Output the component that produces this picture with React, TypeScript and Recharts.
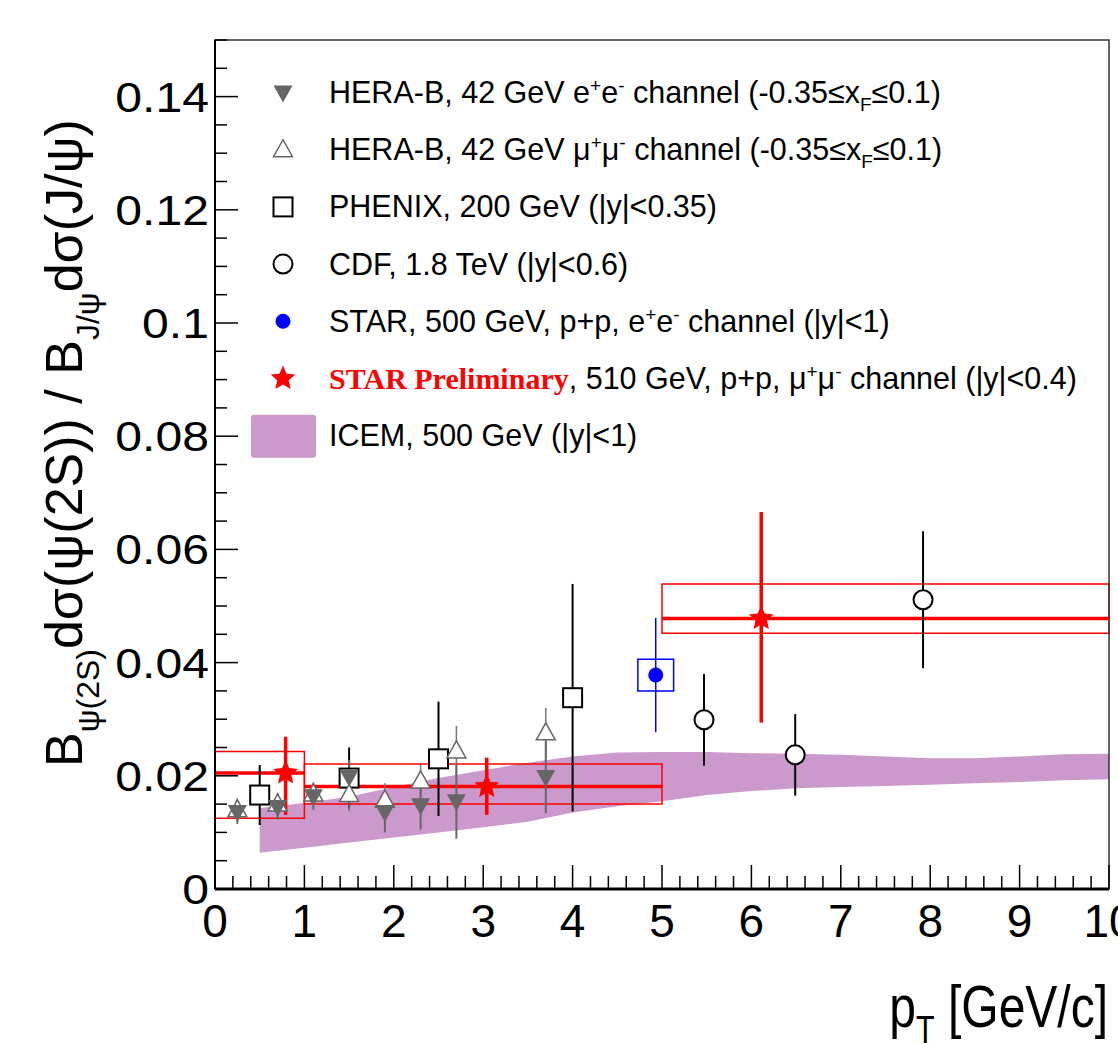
import React from "react";
import {
  ComposedChart,
  Area,
  Scatter,
  ErrorBar,
  XAxis,
  YAxis,
  ReferenceArea,
  ReferenceLine,
  Legend,
} from "recharts";

const FONT = '"Liberation Sans", Arial, Helvetica, sans-serif';

// axis ticks
const xMajorTicks = [0, 1, 2, 3, 4, 5, 6, 7, 8, 9, 10];
const xTickLabels = ["0", "1", "2", "3", "4", "5", "6", "7", "8", "9", "10"];
const yMajorTicks = [0, 0.02, 0.04, 0.06, 0.08, 0.1, 0.12, 0.14];
const yTickLabels = ["0", "0.02", "0.04", "0.06", "0.08", "0.1", "0.12", "0.14"];

// ICEM band, 500 GeV
const icemPt = [0.5, 1, 1.5, 2, 2.5, 3, 3.5, 4, 4.5, 5, 5.5, 6, 6.5, 7, 7.5, 8, 8.5, 9, 9.5, 10];
const icemLow = [0.0064, 0.0073, 0.0082, 0.0091, 0.01, 0.0109, 0.0119, 0.0135, 0.0146, 0.0155, 0.0166, 0.0173, 0.0178, 0.018, 0.0182, 0.0184, 0.0187, 0.0189, 0.0192, 0.0194];
const icemHigh = [0.0143, 0.0152, 0.0163, 0.018, 0.0196, 0.021, 0.0223, 0.0234, 0.0241, 0.0242, 0.0242, 0.024, 0.0239, 0.0237, 0.0234, 0.0231, 0.0231, 0.0234, 0.0238, 0.0239];

// HERA-B e+e-
const heraEePt = [0.25, 0.7, 1.1, 1.5, 1.9, 2.3, 2.7, 3.7];
const heraEeVal = [0.0136, 0.0145, 0.0164, 0.0198, 0.0136, 0.0148, 0.0155, 0.0198];
const heraEeErr = [0.0021, 0.0022, 0.0024, 0.003, 0.0036, 0.0043, 0.0066, 0.0064];

// HERA-B mu+mu-
const heraMmPt = [0.25, 0.7, 1.1, 1.5, 1.9, 2.3, 2.7, 3.7];
const heraMmVal = [0.014, 0.015, 0.0168, 0.0167, 0.0157, 0.0191, 0.0244, 0.0276];
const heraMmErr = [0.002, 0.002, 0.0018, 0.003, 0.003, 0.0029, 0.0044, 0.0044];

// PHENIX 200 GeV
const phenixPt = [0.5, 1.5, 2.5, 4.0];
const phenixVal = [0.0166, 0.0196, 0.023, 0.0338];
const phenixErr = [0.0053, 0.0054, 0.0101, 0.0201];

// CDF 1.8 TeV
const cdfPt = [5.47, 6.49, 7.92];
const cdfVal = [0.0299, 0.0237, 0.0511];
const cdfErr = [0.0081, 0.0072, 0.0121];

// STAR 500 GeV e+e-
const starEePt = [4.93];
const starEeVal = [0.0378];
const starEeErr = [0.0101];
const starEeSysPtLo = [4.73];
const starEeSysPtHi = [5.13];
const starEeSysLo = [0.035];
const starEeSysHi = [0.0406];

// STAR Preliminary 510 GeV mu+mu-
const starMmPt = [0.79, 3.04, 6.11];
const starMmVal = [0.0205, 0.0181, 0.0478];
const starMmErrLo = [0.0074, 0.005, 0.0184];
const starMmErrHi = [0.0064, 0.0051, 0.0188];
const starMmBinLo = [0, 1, 5];
const starMmBinHi = [1, 5, 10];
const starMmSysLo = [0.0125, 0.015, 0.0452];
const starMmSysHi = [0.0243, 0.0221, 0.0539];

type Seg = [string, string?];
const legendRows: { marker: string; text: Seg[] }[] = [
  { marker: "down", text: [["HERA-B, 42 GeV e"], ["+", "sup"], ["e"], ["-", "sup"], [" channel (-0.35≤x"], ["F", "sub"], ["≤0.1)"]] },
  { marker: "up", text: [["HERA-B, 42 GeV μ"], ["+", "sup"], ["μ"], ["-", "sup"], [" channel (-0.35≤x"], ["F", "sub"], ["≤0.1)"]] },
  { marker: "square", text: [["PHENIX, 200 GeV (|y|<0.35)"]] },
  { marker: "circle", text: [["CDF, 1.8 TeV (|y|<0.6)"]] },
  { marker: "dot", text: [["STAR, 500 GeV, p+p, e"], ["+", "sup"], ["e"], ["-", "sup"], [" channel (|y|<1)"]] },
  { marker: "star", text: [["STAR Preliminary", "red"], [", 510 GeV, p+p, μ"], ["+", "sup"], ["μ"], ["-", "sup"], [" channel (|y|<0.4)"]] },
  { marker: "band", text: [["ICEM, 500 GeV (|y|<1)"]] },
];

const bandData = icemPt.map((x, i) => ({ x, range: [icemLow[i], icemHigh[i]] }));
const heraEe = heraEePt.map((x, i) => ({ x, y: heraEeVal[i], err: heraEeErr[i] }));
const heraMm = heraMmPt.map((x, i) => ({ x, y: heraMmVal[i], err: heraMmErr[i] }));
const phenix = phenixPt.map((x, i) => ({ x, y: phenixVal[i], err: phenixErr[i] }));
const cdf = cdfPt.map((x, i) => ({ x, y: cdfVal[i], err: cdfErr[i] }));
const starEe = starEePt.map((x, i) => ({ x, y: starEeVal[i], err: starEeErr[i] }));
const starMm = starMmPt.map((x, i) => ({ x, y: starMmVal[i], err: [starMmErrLo[i], starMmErrHi[i]] }));

const xTicks: number[] = [];
xMajorTicks.forEach((t, i) => {
  if (i === xMajorTicks.length - 1) return xTicks.push(t);
  for (let k = 0; k < 5; k++) xTicks.push(t + (k * (xMajorTicks[i + 1] - t)) / 5);
});
const yTicks: number[] = [];
yMajorTicks.forEach((t) => {
  for (let k = 0; k < 4; k++) if (t + k * 0.005 <= 0.15) yTicks.push(t + k * 0.005);
});
yTicks.push(0.15);

const starPoints = (cx: number, cy: number, ro: number, ri: number) => {
  const pts: string[] = [];
  for (let k = 0; k < 10; k++) {
    const r = k % 2 === 0 ? ro : ri;
    const a = -Math.PI / 2 + (k * Math.PI) / 5;
    pts.push(`${cx + r * Math.cos(a)},${cy + r * Math.sin(a)}`);
  }
  return pts.join(" ");
};

const Marker = ({ kind, cx, cy }: { kind: string; cx: number; cy: number }) => {
  switch (kind) {
    case "down":
      return <polygon points={`${cx - 9.5},${cy - 7} ${cx + 9.5},${cy - 7} ${cx},${cy + 10}`} fill="#666" />;
    case "up":
      return <polygon points={`${cx - 9.5},${cy + 7} ${cx + 9.5},${cy + 7} ${cx},${cy - 10}`} fill="#fff" stroke="#666" strokeWidth={1.5} />;
    case "square":
      return <rect x={cx - 9.5} y={cy - 9.5} width={19} height={19} fill="#fff" stroke="#000" strokeWidth={2} />;
    case "circle":
      return <circle cx={cx} cy={cy} r={9.5} fill="#fff" stroke="#000" strokeWidth={2} />;
    case "dot":
      return <circle cx={cx} cy={cy} r={7.5} fill="#0000ff" />;
    case "star":
      return <polygon points={starPoints(cx, cy, 13, 6)} fill="#ff0000" />;
    default:
      return <rect x={cx - 32} y={cy - 21} width={65} height={43} rx={3} fill="#cc99cc" />;
  }
};

const shape = (kind: string) => (p: any) => <Marker kind={kind} cx={p.cx} cy={p.cy} />;

const XTick = (props: any) => {
  const { x, y, payload } = props;
  const v = payload.value;
  const idx = Math.round(v);
  const major = Math.abs(v - idx) < 1e-6;
  return (
    <g>
      <line x1={x} x2={x} y1={y} y2={y - (major ? 24 : 13)} stroke="#000" strokeWidth={1.5} />
      {major && (
        <text x={x} y={y + 48} textAnchor="middle" fontSize={46} fontFamily={FONT} fill="#000">
          {xTickLabels[idx]}
        </text>
      )}
    </g>
  );
};

const YTick = (props: any) => {
  const { x, y, payload } = props;
  const v = payload.value;
  const idx = Math.round(v / 0.02);
  const major = Math.abs(v / 0.02 - idx) < 1e-6;
  return (
    <g>
      <line x1={x} x2={x + (major ? 23 : 12)} y1={y} y2={y} stroke="#000" strokeWidth={1.5} />
      {major && (
        <text
          transform={`translate(${x - 6},${y + 15}) scale(1.12,1)`}
          textAnchor="end"
          fontSize={43}
          fontFamily={FONT}
          fill="#000"
        >
          {yTickLabels[idx]}
        </text>
      )}
    </g>
  );
};

const YTitle = () => (
  <g transform="translate(82,767) rotate(-90)">
    <text x={0} y={0} fontSize={52} fontFamily={FONT} fill="#000">
      <tspan>B</tspan>
      <tspan fontSize={32} dy={17}>ψ(2S)</tspan>
      <tspan dy={-17}>dσ(ψ(2S)) / B</tspan>
      <tspan fontSize={32} dy={17}>J/ψ</tspan>
      <tspan dy={-17}>dσ(J/ψ)</tspan>
    </text>
  </g>
);

const XTitle = () => (
  <g transform="translate(1108,1027) scale(0.8,1)">
    <text x={0} y={0} textAnchor="end" fontSize={60} fontFamily={FONT} fill="#000">
      p
      <tspan fontSize={38} dy={16}>T</tspan>
      <tspan dy={-16}> [GeV/c]</tspan>
    </text>
  </g>
);

const LegendPanel = () => (
  <svg width={1118} height={480} style={{ position: "absolute", left: 0, top: 0 }}>
    {legendRows.map((row, i) => {
      const cy = 92.5 + i * 57.2;
      let shift = 0;
      return (
        <g key={i}>
          <Marker kind={row.marker} cx={283} cy={cy} />
          <text x={329} y={cy + 10.5} fontSize={30.5} fontFamily={FONT} fill="#000">
            {row.text.map(([s, kind], j) => {
              const want = kind === "sup" ? -11 : kind === "sub" ? 8 : 0;
              const dy = want - shift;
              shift = want;
              if (kind === "red")
                return (
                  <tspan key={j} dy={dy} fill="#ff0000" fontWeight="bold" fontSize={30} fontFamily='"Liberation Serif", "Times New Roman", serif'>
                    {s}
                  </tspan>
                );
              return (
                <tspan key={j} dy={dy} fontSize={kind === "sup" || kind === "sub" ? 19 : 30.5}>
                  {s}
                </tspan>
              );
            })}
          </text>
        </g>
      );
    })}
  </svg>
);

export default function App() {
  return (
    <div style={{ position: "absolute", left: 0, top: 0, width: 1118, height: 1043, background: "#fff" }}>
      <ComposedChart
        width={1118}
        height={1043}
        data={bandData}
        margin={{ top: 40, right: 9, bottom: 94, left: 155 }}
      >
        <XAxis
          type="number"
          dataKey="x"
          domain={[0, 10]}
          ticks={xTicks}
          interval={0}
          tick={<XTick />}
          tickLine={false}
          tickSize={0}
          tickMargin={0}
          height={60}
          axisLine={{ stroke: "#000", strokeWidth: 3 }}
          allowDataOverflow
          label={<XTitle />}
        />
        <YAxis
          type="number"
          domain={[0, 0.15]}
          ticks={yTicks}
          interval={0}
          tick={<YTick />}
          tickLine={false}
          tickSize={0}
          tickMargin={0}
          width={60}
          axisLine={{ stroke: "#000", strokeWidth: 2 }}
          allowDataOverflow
          label={<YTitle />}
        />
        <Area
          type="linear"
          dataKey="range"
          stroke="none"
          fill="#cc99cc"
          fillOpacity={1}
          isAnimationActive={false}
        />
        {starMmPt.map((_, i) => (
          <ReferenceArea
            key={`box${i}`}
            x1={starMmBinLo[i]}
            x2={starMmBinHi[i]}
            y1={starMmSysLo[i]}
            y2={starMmSysHi[i]}
            fill="none"
            stroke="#ff0000"
            strokeWidth={1.5}
          />
        ))}
        {starEePt.map((_, i) => (
          <ReferenceArea
            key={`bbox${i}`}
            x1={starEeSysPtLo[i]}
            x2={starEeSysPtHi[i]}
            y1={starEeSysLo[i]}
            y2={starEeSysHi[i]}
            fill="none"
            stroke="#0000ff"
            strokeWidth={1.5}
          />
        ))}
        {starMmPt.map((_, i) => (
          <ReferenceLine
            key={`bin${i}`}
            segment={[
              { x: starMmBinLo[i], y: starMmVal[i] },
              { x: starMmBinHi[i], y: starMmVal[i] },
            ]}
            stroke="#ff0000"
            strokeWidth={3.5}
          />
        ))}
        <Scatter data={phenix} dataKey="y" shape={shape("square")} isAnimationActive={false}>
          <ErrorBar dataKey="err" direction="y" width={0} stroke="#000" strokeWidth={2} />
        </Scatter>
        <Scatter data={cdf} dataKey="y" shape={shape("circle")} isAnimationActive={false}>
          <ErrorBar dataKey="err" direction="y" width={0} stroke="#000" strokeWidth={2} />
        </Scatter>
        <Scatter data={heraMm} dataKey="y" shape={shape("up")} isAnimationActive={false}>
          <ErrorBar dataKey="err" direction="y" width={0} stroke="#777" strokeWidth={1.5} />
        </Scatter>
        <Scatter data={heraEe} dataKey="y" shape={shape("down")} isAnimationActive={false}>
          <ErrorBar dataKey="err" direction="y" width={0} stroke="#666" strokeWidth={2} />
        </Scatter>
        <Scatter data={starEe} dataKey="y" shape={shape("dot")} isAnimationActive={false}>
          <ErrorBar dataKey="err" direction="y" width={0} stroke="#0000ff" strokeWidth={1.5} />
        </Scatter>
        <Scatter data={starMm} dataKey="y" shape={shape("star")} isAnimationActive={false}>
          <ErrorBar dataKey="err" direction="y" width={0} stroke="#ff0000" strokeWidth={3.5} />
        </Scatter>
        <ReferenceArea x1={0} x2={10} y1={0} y2={0.15} fill="none" stroke="#333" strokeWidth={1.5} />
        <Legend
          layout="vertical"
          align="center"
          verticalAlign="middle"
          wrapperStyle={{ left: 0, top: 0, width: 1118, height: 480 }}
          content={() => <LegendPanel />}
        />
      </ComposedChart>
    </div>
  );
}
